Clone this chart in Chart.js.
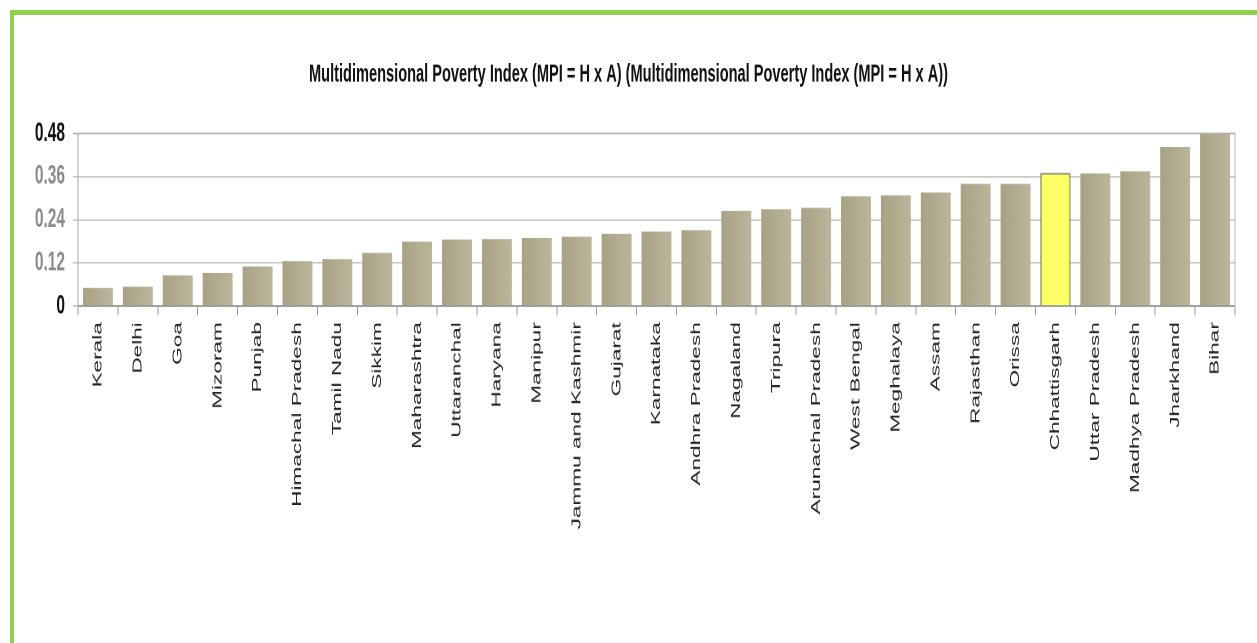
<!DOCTYPE html>
<html>
<head>
<meta charset="utf-8">
<script src="https://cdn.jsdelivr.net/npm/chart.js@4"></script>
<style>
    html, body { margin: 0; padding: 0; background: #fff; overflow: hidden; }
    body { width: 1257px; height: 643px; position: relative; }
    /* green frame round the page */
    #frame {
        position: absolute; left: 10px; top: 10px;
        width: 1400px; height: 800px;
        border-top: 5px solid #92d050; border-left: 4px solid #92d050;
    }
    /* the chart is drawn flat and then stretched tall */
    #wrap {
        position: absolute; left: 0; top: 0;
        width: 1257px; height: 378px;
        transform: scaleY(1.7); transform-origin: 0 0;
    }
</style>
</head>
<body>
<div id="frame"></div>
<div id="wrap"><canvas id="mpiChart"></canvas></div>
<script>
const states = [
    "Kerala", "Delhi", "Goa", "Mizoram", "Punjab", "Himachal Pradesh", "Tamil Nadu",
    "Sikkim", "Maharashtra", "Uttaranchal", "Haryana", "Manipur", "Jammu and Kashmir",
    "Gujarat", "Karnataka", "Andhra Pradesh", "Nagaland", "Tripura", "Arunachal Pradesh",
    "West Bengal", "Meghalaya", "Assam", "Rajasthan", "Orissa", "Chhattisgarh",
    "Uttar Pradesh", "Madhya Pradesh", "Jharkhand", "Bihar"
];
const mpiValues = [
    0.050, 0.054, 0.085, 0.092, 0.110, 0.125, 0.130,
    0.148, 0.179, 0.185, 0.186, 0.189, 0.193,
    0.201, 0.207, 0.211, 0.265, 0.269, 0.273,
    0.305, 0.308, 0.316, 0.340, 0.340, 0.370,
    0.369, 0.375, 0.442, 0.479
];
const yTicks = [0, 0.12, 0.24, 0.36, 0.48];
const highlightState = "Chhattisgarh";
const chartTitle = "Multidimensional Poverty Index (MPI = H x A) (Multidimensional Poverty Index (MPI = H x A))";

// khaki bars, shaded a little lighter to the right
function barFill(c) {
    if (states[c.dataIndex] === highlightState) return "#ffff66";
    const xs = c.chart.scales.x;
    const cx = xs ? xs.getPixelForValue(c.dataIndex) : NaN;
    if (!Number.isFinite(cx)) return "#b0aa8e";
    const g = c.chart.ctx.createLinearGradient(cx - 15, 0, cx + 15, 0);
    g.addColorStop(0, "#a8a285");
    g.addColorStop(1, "#bbb59b");
    return g;
}

const ctx = document.getElementById("mpiChart").getContext("2d");
const mpiChart = new Chart(ctx, {
    type: "bar",
    data: {
        labels: states,
        datasets: [{
            label: "MPI",
            data: mpiValues,
            backgroundColor: barFill,
            borderColor: states.map(s => s === highlightState ? "#6b6848" : "rgba(0,0,0,0)"),
            borderWidth: states.map(s => s === highlightState ? 1 : 0),
            borderSkipped: "start",
            barPercentage: 0.75,
            categoryPercentage: 1.0
        }]
    },
    options: {
        responsive: true,
        maintainAspectRatio: false,
        devicePixelRatio: 2,
        animation: false,
        layout: { padding: { left: 0, right: 0, top: 0, bottom: 0 } },
        plugins: {
            legend: { display: false },
            tooltip: { enabled: false },
            title: {
                display: true,
                text: chartTitle,
                color: "#111",
                font: { family: "Liberation Sans, Arial, sans-serif", size: 14.6, weight: "bold", lineHeight: 1.2 },
                padding: { top: 35, bottom: 26 }
            }
        },
        scales: {
            x: {
                offset: true,
                grid: {
                    display: true,
                    drawOnChartArea: false,
                    offset: true,
                    color: "#9a9a9a",
                    tickLength: 5.5
                },
                border: { display: true, color: "#9a9a9a", width: 1 },
                ticks: {
                    autoSkip: false,
                    minRotation: 90,
                    maxRotation: 90,
                    padding: 4,
                    color: "#222",
                    font: { family: "Liberation Sans, Arial, sans-serif", size: 13.3 }
                },
                afterFit: function (scale) { scale.height = 198; }
            },
            y: {
                min: 0,
                max: 0.48,
                afterBuildTicks: function (scale) {
                    scale.ticks = yTicks.map(v => ({ value: v }));
                },
                grid: {
                    color: c => c.tick && c.tick.value === 0.48 ? "#b4b4b4" : "#cacaca",
                    lineWidth: 1,
                    tickLength: 5
                },
                border: { display: true, color: "#a8a8a8", width: 1 },
                ticks: {
                    padding: 8,
                    color: c => (c.tick.value === 0 || c.tick.value === 0.48) ? "#111" : "#8a8a8a",
                    font: { family: "Liberation Sans, Arial, sans-serif", size: 15.5, weight: "bold" },
                    callback: v => v === 0 ? "0" : v.toFixed(2)
                },
                afterFit: function (scale) { scale.width = 78; }
            },
            yRight: {
                position: "right",
                min: 0,
                max: 0.48,
                grid: { display: false },
                border: { display: true, color: "#b8b8b8", width: 1 },
                ticks: { display: false },
                afterFit: function (scale) { scale.width = 22; }
            }
        }
    }
});
</script>
</body>
</html>
